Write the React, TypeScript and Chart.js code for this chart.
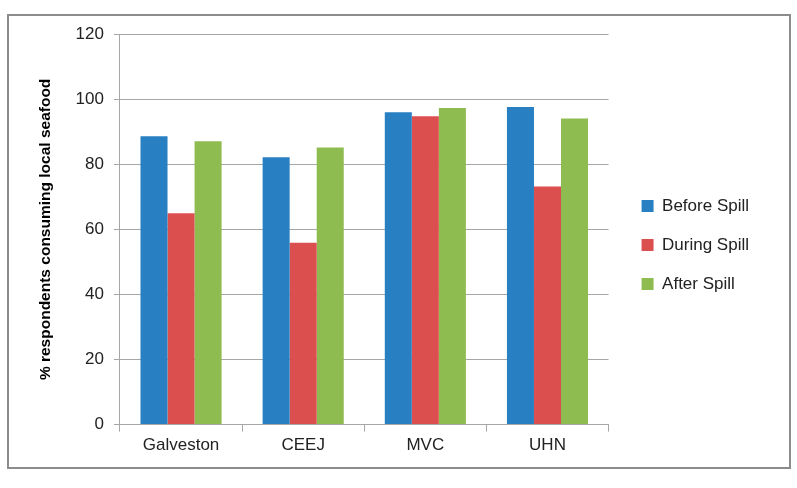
import React, { useEffect, useRef } from "react";
import { Chart, registerables } from "chart.js";

Chart.register(...registerables);

const categories = ["Galveston", "CEEJ", "MVC", "UHN"];
const beforeSpill = [88.6, 82.2, 96.0, 97.6];
const duringSpill = [65.0, 55.9, 94.8, 73.2];
const afterSpill = [87.1, 85.2, 97.3, 94.1];
const seriesNames = ["Before Spill", "During Spill", "After Spill"];
const seriesColors = ["#2880C3", "#DC4F4F", "#8FBC51"];
const yTitle = "% respondents consuming local seafood";

const FONT = "'Liberation Sans', Arial, sans-serif";

// Shifts the built-in legend to leave a wider gap from the plot area
const legendShift = {
  id: "legendShift",
  afterInit(chart: any) {
    const lg = chart.legend;
    if (!lg) return;
    const fit = lg.fit.bind(lg);
    lg.fit = function () {
      fit();
      this.width += 11;
    };
    const draw = lg.draw.bind(lg);
    lg.draw = function (...args: any[]) {
      const c = this.ctx;
      c.save();
      c.translate(11, 3);
      draw(...args);
      c.restore();
    };
  },
};

export default function App() {
  const ref = useRef<HTMLCanvasElement>(null);
  useEffect(() => {
    const ctx = ref.current!;
    const chart = new Chart(ctx, {
      type: "bar",
      data: {
        labels: categories,
        datasets: [beforeSpill, duringSpill, afterSpill].map((d, i) => ({
          label: seriesNames[i],
          data: d,
          backgroundColor: seriesColors[i],
          borderWidth: 0,
          categoryPercentage: 0.664,
          barPercentage: 1,
        })),
      },
      plugins: [legendShift],
      options: {
        animation: false,
        responsive: false,
        devicePixelRatio: 1,
        layout: { padding: { top: 10, right: 30, bottom: 7, left: 27 } },
        plugins: {
          tooltip: { enabled: false },
          legend: {
            position: "right",
            align: "center",
            labels: {
              boxWidth: 12,
              boxHeight: 12,
              padding: 22,
              color: "#222",
              font: { family: FONT, size: 17 },
            },
          },
        },
        scales: {
          x: {
            grid: {
              offset: true,
              drawOnChartArea: false,
              color: "#a6a6a6",
              tickLength: 7,
            },
            border: { color: "#a6a6a6" },
            ticks: { color: "#222", font: { family: FONT, size: 17 }, padding: 4 },
          },
          y: {
            min: 0,
            max: 120,
            ticks: { stepSize: 20, color: "#222", font: { family: FONT, size: 17 }, padding: 10 },
            grid: { color: "#a6a6a6", tickLength: 6 },
            border: { color: "#a6a6a6" },
            title: {
              display: true,
              text: yTitle,
              color: "#000",
              font: { family: FONT, size: 15.5, weight: "bold" },
              padding: { top: 0, bottom: 11 },
            },
          },
        },
      } as any,
    });
    return () => chart.destroy();
  }, []);
  return (
    <div style={{ position: "absolute", left: 0, top: 0, width: 797, height: 488, background: "#fff" }}>
      <div
        style={{
          position: "absolute",
          left: 7,
          top: 14,
          width: 784,
          height: 455,
          border: "2px solid #8c8c8c",
          boxSizing: "border-box",
        }}
      />
      <canvas
        ref={ref}
        width={780}
        height={453}
        style={{ display: "block", position: "absolute", left: 9, top: 14 }}
      />
    </div>
  );
}
